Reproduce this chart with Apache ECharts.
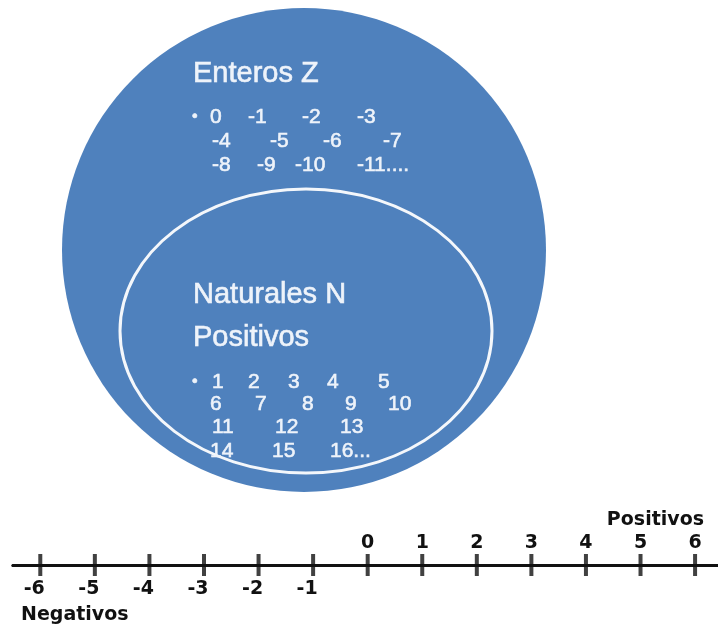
<!DOCTYPE html>
<html>
<head>
<meta charset="utf-8">
<script src="https://cdn.jsdelivr.net/npm/echarts@6/dist/echarts.min.js"></script>
<style>
  html, body { margin: 0; padding: 0; background: #fff; }
  #main { width: 718px; height: 625px; }
</style>
</head>
<body>
<div id="main"></div>
<script>
// contenido de los conjuntos
const enterosRows = [
  ['0', '-1', '-2', '-3'],
  ['-4', '-5', '-6', '-7'],
  ['-8', '-9', '-10', '-11....']
]
const naturalesRows = [
  ['1', '2', '3', '4', '5'],
  ['6', '7', '8', '9', '10'],
  ['11', '12', '13'],
  ['14', '15', '16...']
]
// recta numerica
const lineTicks = [-6, -5, -4, -3, -2, -1, 0, 1, 2, 3, 4, 5, 6]
const negativos = [-6, -5, -4, -3, -2, -1]
const positivos = [0, 1, 2, 3, 4, 5, 6]

// layout (x de cada columna, y de cada fila)
const enterosX = [[210, 248, 302, 357], [212, 270, 323, 383], [212, 257, 295, 357]]
const enterosY = [117, 141, 165]
const naturalesX = [[212, 248, 288, 327, 378], [210, 255, 302, 345, 388], [212, 275, 340], [210, 272, 330]]
const naturalesY = [382, 404, 427, 451]

const BLUE = '#4f81bd'
const WHITE = '#eef3fa'
const SANS = '"Liberation Sans", Arial, sans-serif'

const chart = echarts.init(document.getElementById('main'))

function txt(text, x, y, size) {
  return {
    type: 'text', x: x, y: y, z: 10,
    style: {
      text: text, font: size + 'px ' + SANS, fill: WHITE,
      stroke: WHITE, lineWidth: 0.6, textVerticalAlign: 'middle'
    }
  }
}

const graphics = [
  { type: 'circle', shape: { cx: 304, cy: 250, r: 242 }, style: { fill: BLUE }, z: 1 },
  { type: 'ellipse', shape: { cx: 306, cy: 331, rx: 186, ry: 142 }, style: { fill: null, stroke: '#f4f7fb', lineWidth: 3 }, z: 2 },
  txt('Enteros Z', 193, 74, 29),
  txt('Naturales N', 193, 295, 29),
  txt('Positivos', 193, 338, 29),
  txt('•', 192, enterosY[0], 16),
  txt('•', 192, naturalesY[0], 16)
]
enterosRows.forEach((row, i) => {
  row.forEach((v, j) => graphics.push(txt(v, enterosX[i][j], enterosY[i], 21)))
})
naturalesRows.forEach((row, i) => {
  row.forEach((v, j) => graphics.push(txt(v, naturalesX[i][j], naturalesY[i], 21)))
})
graphics.push({
  type: 'text', x: 21, y: 615,
  style: { text: 'Negativos', font: 'bold 19px "DejaVu Sans"', fill: '#111', textVerticalAlign: 'middle' }
})
graphics.push({
  type: 'text', x: 704, y: 520,
  style: { text: 'Positivos', font: 'bold 19px "DejaVu Sans"', fill: '#111', textAlign: 'right', textVerticalAlign: 'middle' }
})

const axisCommon = {
  type: 'value',
  min: -6.5,
  max: 6.42,
  axisLine: { show: true, onZero: false, lineStyle: { color: '#111', width: 3 } },
  axisTick: { show: false },
  splitLine: { show: false }
}

chart.setOption({
  animation: false,
  backgroundColor: '#fff',
  grid: { left: 13, right: 0, top: 565, height: 0 },
  xAxis: [
    Object.assign({}, axisCommon, {
      position: 'bottom',
      axisLabel: {
        customValues: negativos, margin: 15, padding: [0, 12, 0, 0],
        color: '#111', fontWeight: 'bold', fontSize: 19, fontFamily: 'DejaVu Sans'
      }
    }),
    Object.assign({}, axisCommon, {
      position: 'top',
      axisLabel: {
        customValues: positivos, margin: 12,
        color: '#111', fontWeight: 'bold', fontSize: 19, fontFamily: 'DejaVu Sans'
      }
    })
  ],
  yAxis: { type: 'value', show: false, min: -1, max: 1 },
  series: [{
    type: 'scatter',
    xAxisIndex: 0,
    data: lineTicks.map(v => [v, 0]),
    symbol: 'rect',
    symbolSize: [4, 22],
    itemStyle: { color: '#111' },
    silent: true
  }],
  graphic: graphics
})
</script>
</body>
</html>
